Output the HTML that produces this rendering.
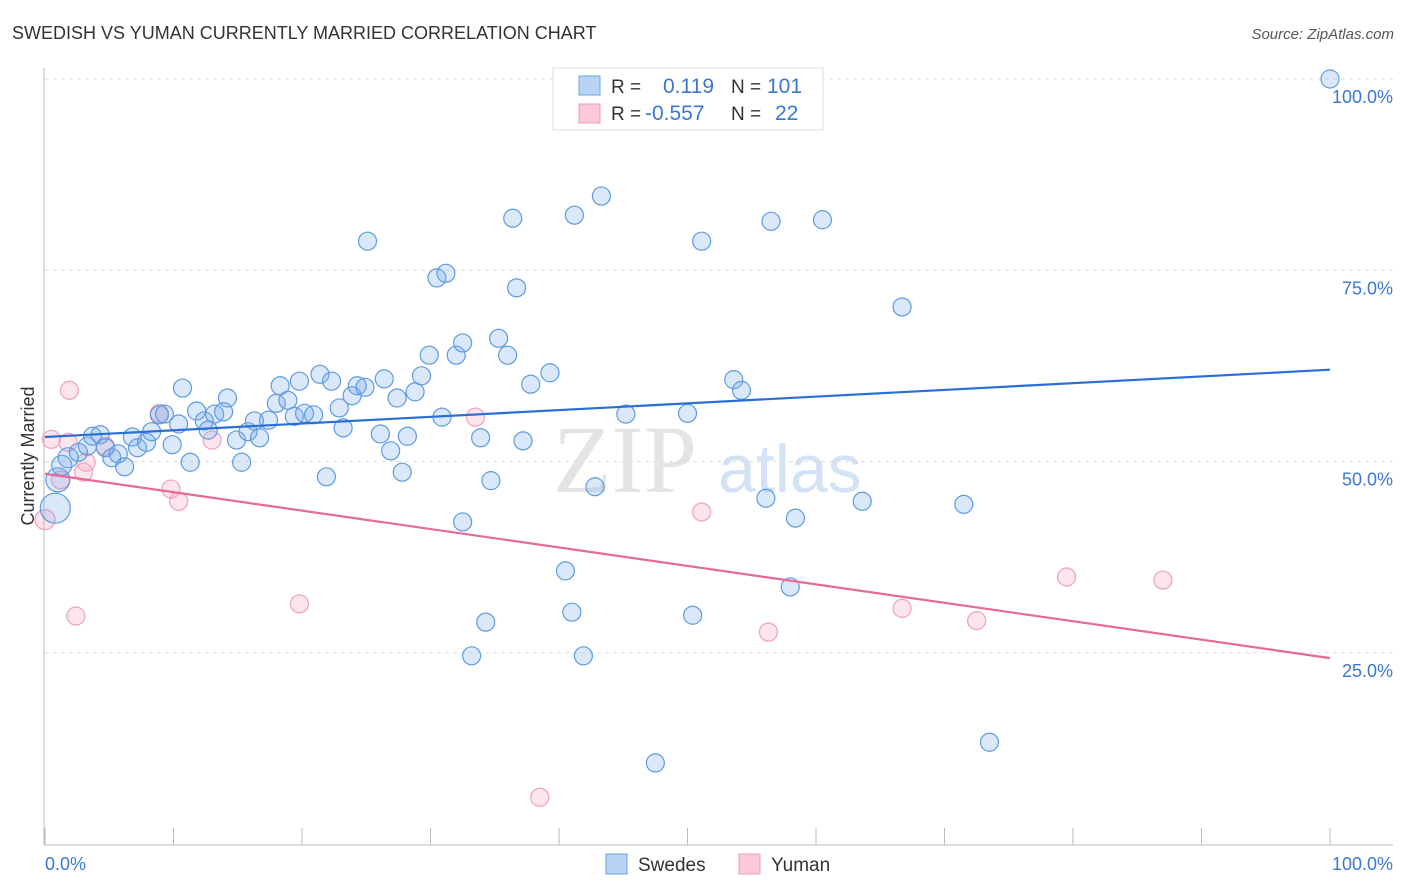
<!DOCTYPE html>
<html><head><meta charset="utf-8"><style>
body{margin:0;background:#fff;font-family:"Liberation Sans",sans-serif}
svg{display:block}
</style></head><body>
<svg id="chart" width="1406" height="892">
<text x="12" y="39" font-size="18" fill="#333">SWEDISH VS YUMAN CURRENTLY MARRIED CORRELATION CHART</text>
<text x="1394" y="39" font-size="15" fill="#555" font-style="italic" text-anchor="end">Source: ZipAtlas.com</text>
<g>
<text x="553" y="492" font-family="Liberation Serif,serif" font-size="96" fill="#e4e4e4">ZIP</text>
<text x="718" y="492" font-size="68" fill="#d3e3f5">atlas</text>
</g>
<g id="grid"></g>
<g id="pts"></g>
<g id="lines"></g>
<text transform="translate(34,456) rotate(-90)" font-size="18" fill="#333" text-anchor="middle">Currently Married</text>
<g>
<rect x="553" y="68" width="270" height="62" fill="#fff" stroke="#ddd"/>
<rect x="579" y="76" width="21" height="19" fill="#b8d3f5" stroke="#6ea3e2"/>
<rect x="579" y="104" width="21" height="19" fill="#f9c9d8" stroke="#ef9ab5"/>
<text x="611" y="93" font-size="19" fill="#333">R =</text><text x="663" y="93" font-size="21" fill="#3a78d0">0.119</text>
<text x="731" y="93" font-size="19" fill="#333">N =</text><text x="767" y="93" font-size="21" fill="#3a78d0">101</text>
<text x="611" y="120" font-size="19" fill="#333">R =</text><text x="645" y="120" font-size="21" fill="#3a78d0">-0.557</text>
<text x="731" y="120" font-size="19" fill="#333">N =</text><text x="775" y="120" font-size="21" fill="#3a78d0">22</text>
</g>
<g>
<rect x="606" y="854" width="21" height="20" fill="#b8d3f5" stroke="#6ea3e2"/>
<text x="638" y="871" font-size="19" fill="#333">Swedes</text>
<rect x="739" y="854" width="21" height="20" fill="#f9c9d8" stroke="#ef9ab5"/>
<text x="771" y="871" font-size="19" fill="#333">Yuman</text>
</g>
</svg>
<script>
const blueX=[0.8,1.0,1.3,1.8,2.6,3.3,3.7,4.3,4.7,5.2,5.7,6.2,6.8,7.2,7.9,8.3,8.9,9.3,9.9,10.4,10.7,11.3,11.8,12.4,12.7,13.2,13.9,14.2,14.9,15.3,15.8,16.3,16.7,17.4,18.0,18.3,18.9,19.4,19.8,20.2,20.9,21.4,21.9,22.3,22.9,23.2,23.9,24.3,24.9,25.1,26.1,26.4,26.9,27.4,27.8,28.2,28.8,29.3,29.9,30.5,30.9,31.2,32.0,32.5,32.5,33.2,33.9,34.3,34.7,35.3,36.0,36.4,36.7,37.2,37.8,39.3,40.5,41.0,41.2,41.9,42.8,43.3,45.2,46.8,47.5,50.0,50.4,51.1,53.6,54.2,56.1,56.5,58.0,58.4,60.5,63.6,66.7,71.5,73.5,100];
const blueY=[43.9,47.6,49.5,50.5,51.2,52.0,53.3,53.5,51.8,50.5,51.0,49.3,53.2,51.8,52.5,53.9,56.1,56.2,52.2,54.9,59.6,49.9,56.6,55.3,54.1,56.2,56.5,58.3,52.8,49.9,53.9,55.3,53.1,55.4,57.6,59.9,58.0,55.9,60.5,56.3,56.1,61.4,48.0,60.5,57.0,54.4,58.6,59.9,59.7,78.8,53.6,60.8,51.4,58.3,48.6,53.3,59.1,61.2,63.9,74.0,55.8,74.6,63.9,65.5,42.1,24.6,53.1,29.0,47.5,66.1,63.9,81.8,72.7,52.7,60.1,61.6,35.7,30.3,82.2,24.6,46.7,84.7,56.2,100,10.6,56.3,29.9,78.8,60.7,59.3,45.2,81.4,33.6,42.6,81.6,44.8,70.2,44.4,13.3,100];
const blueR=[15,12,10,10];
const pinkX=[0,0.5,1.2,1.8,1.9,2.4,3.0,3.2,4.7,8.9,9.8,10.4,13.0,19.8,33.5,38.5,51.1,56.3,66.7,72.5,79.5,87.0];
const pinkY=[42.4,52.9,47.6,52.5,59.3,29.8,48.6,49.9,52.0,56.3,46.4,44.8,52.8,31.4,55.8,6.1,43.4,27.7,30.8,29.2,34.9,34.5];
const blueTrend=[53.2,62.0];
const pinkTrend=[48.4,24.3];
const yTicks=[25,50,75,100];
const yTickLabels=["25.0%","50.0%","75.0%","100.0%"];
const xTicks=[0,10,20,30,40,50,60,70,80,90,100];
const NS="http://www.w3.org/2000/svg";
const sx=v=>45+v*12.85, sy=v=>844-v*7.65;
function mk(t,a,p){const e=document.createElementNS(NS,t);for(const k in a)e.setAttribute(k,a[k]);p.appendChild(e);return e;}
const grid=document.getElementById('grid');
yTicks.forEach((t,i)=>{
 const l=mk('line',{x1:45,x2:1393,y1:sy(t),y2:sy(t),stroke:'#ddd','stroke-dasharray':'4,4'},grid);
 
 
 const tx=mk('text',{x:1393,y:sy(t)+24,'font-size':18,fill:'#3a78d0','text-anchor':'end'},grid);
 tx.textContent=yTickLabels[i];
 
 
});
mk('line',{x1:44,x2:44,y1:68,y2:845,stroke:'#bbb'},grid);
mk('line',{x1:44,x2:1393,y1:845,y2:845,stroke:'#bbb'},grid);
xTicks.forEach(t=>{
 const l=mk('line',{x1:sx(t),x2:sx(t),y1:828,y2:845,stroke:'#bbb'},grid);
 
 
});
const xl0=mk('text',{x:45,y:870,'font-size':18,fill:'#3a78d0'},grid);xl0.textContent='0.0%';


const xl1=mk('text',{x:1393,y:870,'font-size':18,fill:'#3a78d0','text-anchor':'end'},grid);xl1.textContent='100.0%';


const pts=document.getElementById('pts');
pinkX.forEach((x,i)=>{
 const c=mk('circle',{cx:sx(x),cy:sy(pinkY[i]),r:i==0?10:9,fill:'rgba(244,150,180,0.25)',stroke:'#f0a0ba','stroke-width':1.2},pts);
 
 
});
blueX.forEach((x,i)=>{
 const c=mk('circle',{cx:sx(x),cy:sy(blueY[i]),r:blueR[i]||9,fill:'rgba(120,170,235,0.27)',stroke:'#5d9be0','stroke-width':1.2},pts);
 
 
});
const lines=document.getElementById('lines');
const bl=mk('line',{x1:sx(0),x2:sx(100),y1:sy(blueTrend[0]),y2:sy(blueTrend[1]),stroke:'#2a6fd6','stroke-width':2.2},lines);


const pl=mk('line',{x1:sx(0),x2:sx(100),y1:sy(pinkTrend[0]),y2:sy(pinkTrend[1]),stroke:'#e8689a','stroke-width':2.2},lines);


</script>
</body></html>
